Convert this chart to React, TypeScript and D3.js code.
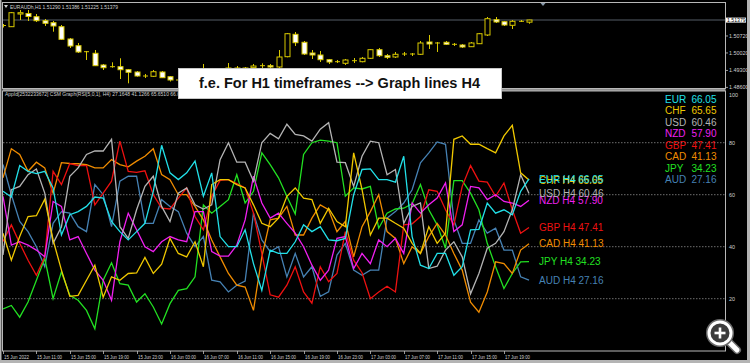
import React from "react";
import * as d3 from "d3";

const W = 750, H = 363;

const currencies = ["EUR", "CHF", "USD", "NZD", "GBP", "CAD", "JPY", "AUD"];
const lastValues = [66.05, 65.65, 60.46, 57.9, 47.41, 41.13, 34.23, 27.16];
const colors = ["#22e0e8", "#f0c800", "#b4b4b4", "#f020f0", "#ee1111", "#f08c00", "#22e022", "#4682b4"];

const EUR = [61.3,59.1,71.2,69,68.1,69,62.6,44.5,52.3,53.5,55.5,59.1,58.7,49.7,45.8,42.6,45.8,49,61.3,79,68.4,65.8,68.4,72.9,59.4,68.4,43.9,40,40,46.5,33.5,23.2,38.7,37.4,37.4,41.9,48.4,45.8,47.7,42.6,42.3,43.2,60,69.7,69.9,65.8,65.8,64.8,74.8,43.9,32.9,31.6,37.4,37.4,29,32.3,46.5,46.7,56.8,52.9,54.2,52.3,61.3,66.05];
const CHF = [45.2,34.8,43.9,51.6,51.9,58.3,42.6,31,20.9,21.3,27.1,32.9,20.6,28.4,27.1,29.7,29.9,35.9,29.7,33.3,43.2,37.4,36.1,41.9,32.3,63.9,65.8,65.8,63.9,62.6,56.1,49,47.7,51,59.4,62.6,58.7,58.1,49,54.8,49.7,47.7,76.1,62,44.5,51,51,49,47.1,41.3,37.4,47.7,41.3,45.2,81.3,82.6,79.4,79.4,77.7,76.1,82.6,86.7,68.4,65.65];
const USD = [36.8,61.9,63.2,67.7,69.9,60.6,41.3,47.7,67.1,70.3,75.5,76.8,76.8,81.3,47.7,43.2,54.2,63.2,67.1,55.5,49.7,60.6,62.6,56.1,54.5,56.1,73.5,80,72.5,72.5,65.2,80,83.6,81.5,87.1,83.2,82.6,80.6,85.2,87.7,72.5,72.3,63.2,74.8,80.6,80,67.7,69.7,49,55.5,56.8,31.6,32.5,38.7,41.9,36.1,21.9,29.7,39.4,41.3,45.8,54.2,67.7,60.46];
const NZD = [59.4,40.6,41.9,40.6,38.7,36.1,57.4,55.5,42.6,43.9,37.4,31,27.1,19.4,41.9,52.9,46.5,40,38.1,41.9,43.9,42.6,41.9,53.5,53.5,38.1,36.4,36.4,40.6,50.3,67.1,56.8,51,52.9,49,45.2,40,32.9,27.1,31,43.2,43.9,31.6,37.4,33.5,42.6,40,43.2,37.4,56.8,52.9,56.1,58.7,64.5,45.8,48.4,63.2,62.6,58.1,60,57.4,56.8,55.5,57.9];
const GBP = [42,48.4,41.3,34.8,29,36.1,69,63.9,72,71.2,71.2,56.1,60.6,65.2,80.6,69,68.6,69.2,60,54.8,54.5,58.7,62.6,51.6,46.5,59.4,65.5,65.8,64.3,62.6,52.9,37.4,21.5,20.6,25.2,32.3,22.6,18.3,32.3,26.5,29.7,45.8,34.8,30,20,22.6,24.8,22.6,48.4,48.8,51.6,61.9,61.3,54.2,48.4,63.2,71.2,65.2,64.8,59.4,64.5,54.2,45.2,47.41];
const CAD = [66.5,77.7,75.5,69,72.5,70.3,60.6,72.3,72,71.9,71.6,70.3,70.3,73.5,71.6,70.7,72.9,74.8,77.7,67.7,65.8,60,60,55.5,50.3,42.6,36.1,29.7,25.2,24.5,15.5,36.1,50.3,51,55.5,44.5,44.5,51,56.1,54.2,45.8,49.7,36.1,47.7,53.5,60,45.8,43.2,33.5,40,37.4,43.9,49,44.5,37.4,31,18.7,14.8,22.6,34.2,33.5,29.7,38.7,41.13];
const JPY = [16.1,17.4,12.9,18.7,27.1,35.5,20,30.3,21.3,19.4,15.5,8.4,27.1,33.8,25.8,25.2,18.7,21.9,16.8,10.3,18.1,23.2,23.9,28.4,56.1,52.9,55.5,58.1,67.7,56.8,61.3,76.1,71.6,66.5,59.4,52.6,75.5,80,81,80.6,80,59.4,62.6,62.2,63.2,47.1,52.9,54.5,54.8,56.5,63.9,54.2,48.4,39.4,65.4,65.4,60.6,54.2,41.3,32.3,23.9,29.7,34.2,34.23];
const AUD = [71.6,60,49.7,45.8,40,32.3,49,53.5,52.9,47.7,45.8,63.9,60,47.7,65.2,67.1,67.1,49,49,58.1,55.5,53.5,45.2,40,43.9,27.1,26.5,22.6,25.2,26.8,52.9,42.6,38.1,40,28.4,37.4,28.4,32.3,20.9,22.6,36.8,41.3,31,29,31,31,51,53.5,56.8,61.9,72.3,76.1,80.3,79.4,50.3,41.3,41.3,50.3,45.2,47.1,38.7,38.7,28.4,27.16];
const seriesValues = [EUR, CHF, USD, NZD, GBP, CAD, JPY, AUD];

// EURAUD H1 candles
const candleOpen = [1.51152,1.51103,1.51626,1.51647,1.51515,1.51350,1.51268,1.51103,1.50596,1.50319,1.50072,1.50006,1.49524,1.49441,1.49454,1.49330,1.49235,1.49070,1.49058,1.49235,1.49041,1.48905,1.48864,1.49029,1.49194,1.49318,1.49235,1.49318,1.49400,1.49318,1.49412,1.49454,1.49495,1.49441,1.49866,1.50789,1.50460,1.50018,1.49936,1.49742,1.49660,1.49594,1.49689,1.49660,1.49800,1.50155,1.49907,1.49854,1.49965,1.49977,1.49965,1.50472,1.50418,1.50460,1.50377,1.50348,1.50278,1.50402,1.50761,1.51391,1.51309,1.51160,1.51325,1.51290];
const candleHigh = [1.51214,1.51709,1.51791,1.51791,1.51626,1.51420,1.51338,1.51173,1.50637,1.50431,1.50101,1.50142,1.49565,1.49635,1.49800,1.49359,1.49276,1.49153,1.49318,1.49276,1.49070,1.48988,1.49070,1.49235,1.49565,1.49400,1.49359,1.49606,1.49482,1.49441,1.49565,1.49594,1.49565,1.50142,1.50843,1.50884,1.50513,1.50142,1.50101,1.49771,1.49730,1.49771,1.49812,1.49854,1.50183,1.50225,1.49977,1.50060,1.50060,1.50018,1.50513,1.50761,1.50472,1.50513,1.50431,1.50390,1.50472,1.50843,1.51503,1.51503,1.51338,1.51379,1.51379,1.51386];
const candleLow = [1.51070,1.51090,1.51379,1.51338,1.51297,1.51132,1.50897,1.50555,1.50225,1.50018,1.49730,1.49482,1.49318,1.49412,1.48946,1.48769,1.49041,1.48988,1.49029,1.48988,1.48843,1.48782,1.48823,1.48988,1.49111,1.49153,1.49194,1.49276,1.49235,1.49276,1.49318,1.49400,1.49400,1.49400,1.49841,1.50307,1.49936,1.49771,1.49647,1.49565,1.49606,1.49524,1.49606,1.49635,1.49771,1.49854,1.49771,1.49812,1.49895,1.49895,1.49936,1.50183,1.50060,1.50348,1.50307,1.50225,1.50266,1.50390,1.50719,1.51255,1.51132,1.51008,1.51297,1.51225];
const candleClose = [1.51111,1.51680,1.51680,1.51523,1.51350,1.51243,1.51132,1.50583,1.50307,1.50060,1.50060,1.49495,1.49412,1.49454,1.49330,1.49223,1.49070,1.49058,1.49247,1.49000,1.48905,1.48864,1.49029,1.49194,1.49318,1.49235,1.49318,1.49400,1.49318,1.49400,1.49482,1.49495,1.49441,1.49854,1.50814,1.50443,1.49977,1.49936,1.49742,1.49647,1.49647,1.49730,1.49701,1.49800,1.50155,1.49907,1.49841,1.49965,1.49977,1.49965,1.50431,1.50390,1.50431,1.50377,1.50361,1.50266,1.50431,1.50814,1.51433,1.51297,1.51173,1.51325,1.51317,1.51379];

const priceTicks = [1.5072, 1.5002, 1.493, 1.486];
const currentPrice = 1.51379;
const rsiTicks = [100, 80, 60, 40, 20];
const gridLevels = [80, 60, 40, 20];
const timeLabels = ["15 Jun 2022","15 Jun 11:00","15 Jun 15:00","15 Jun 19:00","15 Jun 23:00","16 Jun 03:00","16 Jun 07:00","16 Jun 11:00","16 Jun 15:00","16 Jun 19:00","16 Jun 23:00","17 Jun 03:00","17 Jun 07:00","17 Jun 11:00","17 Jun 15:00","17 Jun 19:00"];
const timeLabelStep = 4;

const FONT = "'Liberation Sans', Arial, sans-serif";

export default function App() {
  const x = d3.scaleLinear().domain([0, 63]).range([3, 529]);
  const yP = d3.scaleLinear().domain([1.486, 1.51379]).range([87.4, 20]);
  const yR = d3.scaleLinear().domain([0, 100]).range([350.7, 90.7]);
  const line = d3.line<number>().x((_, i) => x(i)).y((v) => yR(v));
  const candleCol = "#d8c800";
  const drawOrder = [7, 6, 5, 4, 3, 2, 1, 0];
  const labelOrder = [7, 6, 5, 4, 3, 2, 1, 0];

  return (
    <svg width={W} height={H} style={{ position: "absolute", left: 0, top: 0, background: "#000" }} fontFamily={FONT}>
      <rect x={0} y={0} width={W} height={H} fill="#000" />
      <defs>
        <clipPath id="pclip"><rect x={3} y={3} width={722} height={85} /></clipPath>
        <clipPath id="rclip"><rect x={3} y={91} width={722} height={260} /></clipPath>
      </defs>

      {/* price panel */}
      <text x={10} y={8.5} fontSize={5.6} fill="#d0d0d0" textLength={108} lengthAdjust="spacingAndGlyphs">EURAUDh,H1  1.51290 1.51386 1.51225 1.51379</text>
      <path d="M4,5 L8,5 L6,8 Z" fill="#d0d0d0" />
      <path d="M540.5,3 L545.5,3 L543,6 Z" fill="#8899aa" />
      <line x1={3} x2={725} y1={yP(currentPrice)} y2={yP(currentPrice)} stroke="#6a7480" strokeWidth={0.8} />
      <g clipPath="url(#pclip)">
        {candleOpen.map((o, i) => {
          const c = candleClose[i];
          const cx = Math.round(x(i)) + 0.5;
          const top = yP(Math.max(o, c));
          const bot = yP(Math.min(o, c));
          const bull = c > o;
          return (
            <g key={i}>
              <line x1={cx} x2={cx} y1={yP(candleHigh[i])} y2={yP(candleLow[i])} stroke={candleCol} strokeWidth={1} />
              {bot - top < 1 ? (
                <line x1={cx - 2.5} x2={cx + 2.5} y1={top} y2={top} stroke={candleCol} strokeWidth={1} />
              ) : (
                <rect x={cx - 2.5} y={top} width={5} height={bot - top} fill={bull ? "#000" : "#fff"} stroke={candleCol} strokeWidth={1} />
              )}
            </g>
          );
        })}
      </g>
      {priceTicks.map((p) => (
        <g key={p}>
          <line x1={725} x2={728} y1={yP(p)} y2={yP(p)} stroke="#c0c0c0" strokeWidth={0.8} />
          <text x={729} y={yP(p) + 1.8} fontSize={5.4} fill="#d0d0d0">{p.toFixed(5)}</text>
        </g>
      ))}
      <rect x={726} y={yP(currentPrice) - 2.4} width={20} height={5} fill="#fff" />
      <text x={727} y={yP(currentPrice) + 1.8} fontSize={5.2} fill="#000">{currentPrice.toFixed(5)}</text>

      {/* frames */}
      <rect x={2.5} y={2.5} width={723} height={86} fill="none" stroke="#b8b8b8" strokeWidth={1} />
      <rect x={2.5} y={89} width={723} height={2} fill="#909090" />
      <rect x={2.5} y={91} width={723} height={260} fill="none" stroke="#b8b8b8" strokeWidth={1} />

      {/* indicator panel */}
      <text x={5} y={96} fontSize={5.4} fill="#d0d0d0" textLength={175} lengthAdjust="spacingAndGlyphs">AppId[2532233672] CSM Graph(RSI[5,0,1], H4) 27.1648 41.1266 65.6510 66.0</text>
      {gridLevels.map((g) => (
        <line key={g} x1={3} x2={725} y1={yR(g)} y2={yR(g)} stroke="#8a8a8a" strokeWidth={0.8} strokeDasharray="1.5,1.5" />
      ))}
      {rsiTicks.map((t) => (
        <text key={t} x={729} y={t === 100 ? yR(t) + 5.8 : yR(t) + 2} fontSize={5.4} fill="#d0d0d0">{t}</text>
      ))}
      <g clipPath="url(#rclip)">
        {drawOrder.map((k) => (
          <path key={k} d={line(seriesValues[k]) || ""} fill="none" stroke={colors[k]} strokeWidth={1.3} strokeLinejoin="miter" />
        ))}
      </g>
      {labelOrder.map((k) => (
        <text key={k} x={539} y={yR(lastValues[k]) + 3.6} fontSize={10} fill={colors[k]}>
          {currencies[k]} H4 {lastValues[k].toFixed(2)}
        </text>
      ))}
      {currencies.map((c, k) => (
        <g key={c}>
          <text x={665} y={102.9 + k * 11.5} fontSize={10} fill={colors[k]}>{c}</text>
          <text x={716.5} y={102.9 + k * 11.5} fontSize={10} fill={colors[k]} textAnchor="end">{lastValues[k].toFixed(2)}</text>
        </g>
      ))}

      {/* time axis */}
      {timeLabels.map((t, j) => {
        const tx = Math.round(x(j * timeLabelStep)) + 0.5;
        return (
          <g key={t}>
            <line x1={tx} x2={tx} y1={351} y2={354} stroke="#c0c0c0" strokeWidth={0.8} />
            <text x={tx + 0.5} y={358.5} fontSize={5} fill="#d0d0d0" textLength={25} lengthAdjust="spacingAndGlyphs">{t}</text>
          </g>
        );
      })}

      {/* annotation */}
      <rect x={178.5} y={68.5} width={323} height={30} fill="#fff" stroke="#c8c8c8" strokeWidth={1} />
      <text x={199} y={88.3} fontSize={14.5} fontWeight="bold" fill="#111" textLength={281} lengthAdjust="spacingAndGlyphs">f.e. For H1 timeframes --&gt; Graph lines H4</text>

      {/* zoom icon */}
      <line x1={728} y1={341} x2={737} y2={350} stroke="#6a6a6a" strokeWidth={8} strokeLinecap="round" />
      <line x1={728} y1={341} x2={737} y2={350} stroke="#fff" strokeWidth={5} strokeLinecap="round" />
      <circle cx={720} cy={333} r={11} fill="#3c3c3c" stroke="#6a6a6a" strokeWidth={6} />
      <circle cx={720} cy={333} r={11} fill="#3c3c3c" stroke="#fff" strokeWidth={3} />
      <line x1={714.5} x2={725.5} y1={333} y2={333} stroke="#fff" strokeWidth={2.6} />
      <line x1={720} x2={720} y1={327.5} y2={338.5} stroke="#fff" strokeWidth={2.6} />

      {/* outer border */}
      <rect x={0} y={360} width={W} height={3} fill="#b4b4b4" />
      <rect x={0} y={0} width={1.5} height={H} fill="#b4b4b4" />
      <rect x={747} y={0} width={3} height={H} fill="#b4b4b4" />
    </svg>
  );
}
